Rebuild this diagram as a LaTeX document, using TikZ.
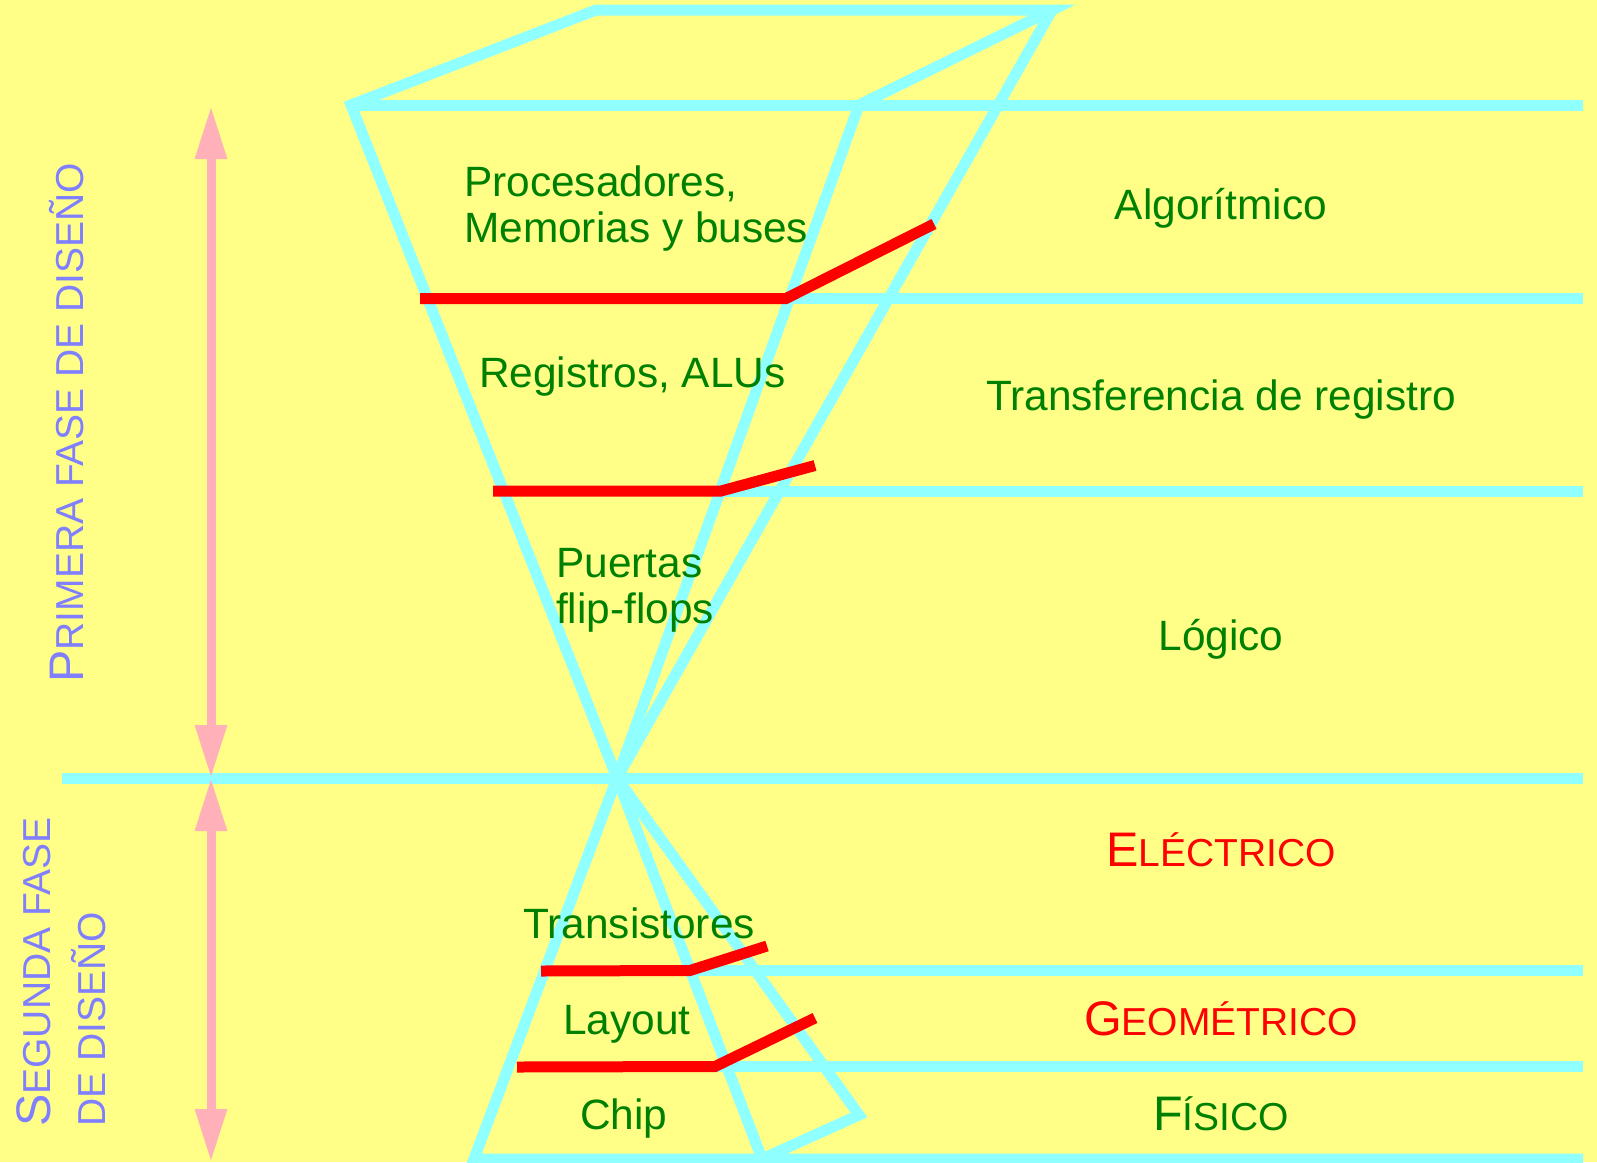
\documentclass[tikz,border=0pt]{standalone}
\usepackage{fontspec}
\setmainfont{Liberation Sans}
\usetikzlibrary{arrows.meta}
\definecolor{bgyellow}{RGB}{255,255,136}
\definecolor{cyanline}{RGB}{143,255,255}
\definecolor{redline}{RGB}{255,0,0}
\definecolor{txtgreen}{RGB}{0,128,0}
\definecolor{phase}{RGB}{128,128,255}
\definecolor{pinkarrow}{RGB}{255,176,184}
\newcommand{\maintxt}{\fontsize{42.4}{47}\selectfont}
\newcommand{\capbig}{\fontsize{48.5}{52}\selectfont}
\newcommand{\capsmall}{\fontsize{39}{44}\selectfont}
\begin{document}
\begin{tikzpicture}[x=1pt,y=-1pt,
  cyanl/.style={draw=cyanline,line width=11pt},
  redl/.style={draw=redline,line width=11pt},
  pinkarr/.style={draw=pinkarrow,line width=9pt,{Triangle[length=53pt,width=30pt]}-{Triangle[length=53pt,width=30pt]}},
  lbl/.style={text=txtgreen,inner sep=0pt,font=\maintxt},
  redlbl/.style={text=redline,inner sep=0pt},
  phaselbl/.style={text=phase,inner sep=0pt,rotate=90,anchor=base west}]
\fill[bgyellow] (0,0) rectangle (1597,1162);
\useasboundingbox (0,0) rectangle (1597,1162);
% vertices
\coordinate (A) at (351,105);
\coordinate (B) at (596,10);
\coordinate (C) at (1052,10);
\coordinate (D) at (859,105);
\coordinate (X) at (617,778);
\coordinate (E) at (474,1159);
\coordinate (F) at (762,1159);
\coordinate (G) at (859,1115);
% horizontal line ends
\coordinate (R1) at (1583,105);
\coordinate (L2) at (786,298.5);  \coordinate (R2) at (1583,298.5);
\coordinate (L3) at (721,491);    \coordinate (R3) at (1583,491);
\coordinate (L4) at (62,778);     \coordinate (R4) at (1583,778);
\coordinate (L5) at (690,970.5);  \coordinate (R5) at (1583,970.5);
\coordinate (L6) at (715,1066.5); \coordinate (R6) at (1583,1066.5);
\coordinate (R7) at (1583,1159);
% cyan construction
\draw[cyanl] (X) -- (A) -- (B) -- (C) -- (D) -- (X);
\draw[cyanl] (C) -- (X);
\draw[cyanl] (A) -- (R1);
\draw[cyanl] (L2) -- (R2);
\draw[cyanl] (L3) -- (R3);
\draw[cyanl] (L4) -- (R4);
\draw[cyanl] (L5) -- (R5);
\draw[cyanl] (L6) -- (R6);
\draw[cyanl] (X) -- (E) -- (R7);
\draw[cyanl] (X) -- (F) -- (G) -- (X);
% red cuts
\coordinate (a1) at (420,298.5); \coordinate (a3) at (934,224);
\coordinate (b1) at (493,491);   \coordinate (b3) at (815,465.5);
\coordinate (c1) at (541,971);   \coordinate (c3) at (767,946);
\coordinate (d1) at (517,1067);  \coordinate (d3) at (815,1018);
\draw[redl] (a1) -- (L2) -- (a3);
\draw[redl] (b1) -- (L3) -- (b3);
\draw[redl] (c1) -- (L5) -- (c3);
\draw[redl] (d1) -- (L6) -- (d3);
% pink arrows
\coordinate (p1) at (211,106);
\coordinate (p2) at (211,778);
\coordinate (p3) at (211,1162);
\draw[pinkarr] (p1) -- (p2);
\draw[pinkarr] (p2) -- (p3);
% level labels in the funnel
\node[lbl,anchor=base west] (t1) at (464,196) {Procesadores,};
\node[lbl,anchor=base west] (t2) at (464,242) {Memorias y buses};
\node[lbl,anchor=base west] (t3) at (479,387) {Registros, ALUs};
\node[lbl,anchor=base west] (t4) at (556,577) {Puertas};
\node[lbl,anchor=base west] (t5) at (556,623) {flip-flops};
\node[lbl,anchor=base west] (t6) at (523,938) {Transistores};
\node[lbl,anchor=base west] (t7) at (563,1034) {Layout};
\node[lbl,anchor=base west] (t8) at (580,1129) {Chip};
% level names on the right
\node[lbl,anchor=base] (n1) at (1221,219) {Algorítmico};
\node[lbl,anchor=base] (n2) at (1221,410) {Transferencia de registro};
\node[lbl,anchor=base] (n3) at (1221,650) {Lógico};
\node[redlbl,anchor=base] (n4) at (1221,866) {{\capbig E}{\capsmall LÉCTRICO}};
\node[redlbl,anchor=base] (n5) at (1221,1035) {{\capbig G}{\capsmall EOMÉTRICO}};
\node[lbl,anchor=base] (n6) at (1221,1130) {{\capbig F}{\capsmall ÍSICO}};
% phase labels
\node[phaselbl] (ph1) at (83,683) {{\capbig P}{\capsmall RIMERA FASE DE DISEÑO}};
\node[phaselbl] (ph2) at (50,1127) {{\capbig S}{\capsmall EGUNDA FASE}};
\node[phaselbl] (ph3) at (105,1127) {{\capsmall DE DISEÑO}};
\end{tikzpicture}
\end{document}
